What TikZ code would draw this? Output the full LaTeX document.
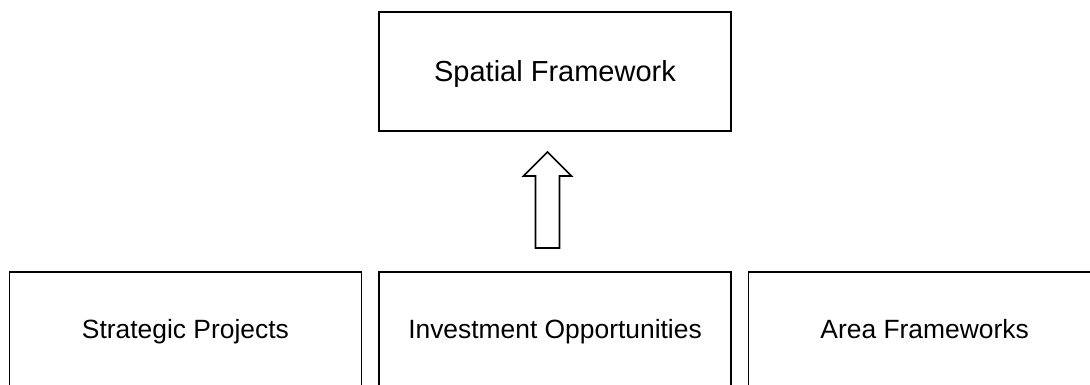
\documentclass[tikz,border=0pt]{standalone}
\usepackage{fontspec}
\setmainfont{Liberation Sans}
\usepackage{xcolor}
\usepackage{tikz}
\usetikzlibrary{positioning}
\definecolor{ink}{HTML}{000000}
\tikzset{
  box/.style={draw=ink, line width=1.6pt, minimum width=352pt, minimum height=119pt, inner sep=0pt, text=ink},
  topfont/.style={font=\fontsize{29}{34}\selectfont, text height=21pt, text depth=0pt},
  lowfont/.style={font=\fontsize{26.4}{31}\selectfont, text height=19pt, text depth=5.5pt},
  hollow/.style={draw=ink, line width=1.6pt, line join=miter, fill=white},
}
\begin{document}
\begin{tikzpicture}[x=1pt,y=-1pt]
\useasboundingbox (0,0) rectangle (1090,385);
\clip (0,0) rectangle (1090,385);
\node[box, topfont] (spatial) at (555,71.5) {Spatial Framework};
\node[box, lowfont] (invest) at (555,331.5) {Investment Opportunities};
\node[box, lowfont, left=16pt of invest] (strategic) {Strategic Projects};
\node[box, lowfont, right=16pt of invest] (area) {Area Frameworks};
% block arrow between the rows
\coordinate (tail) at (547.5,248);
\draw[hollow] (tail) ++(-12,0) -- ++(0,-72) -- ++(-12,0) -- ++(24,-24)
  -- ++(24,24) -- ++(-12,0) -- ++(0,72) -- cycle;
\end{tikzpicture}
\end{document}
